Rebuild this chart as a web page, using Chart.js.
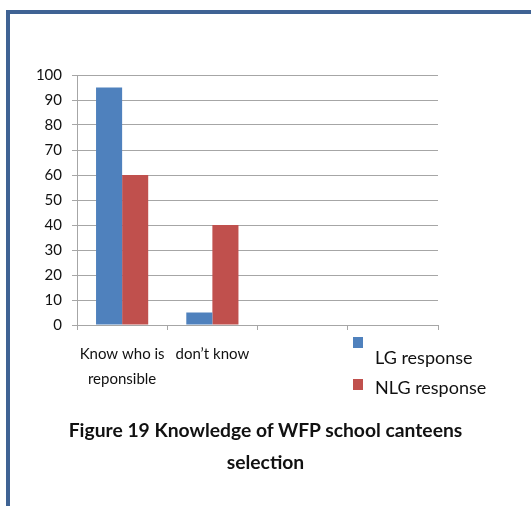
<!DOCTYPE html>
<html lang="en">
<head>
  <meta charset="UTF-8" />
  <title>Figure 19 Knowledge of WFP school canteens selection</title>
  <script src="https://cdn.jsdelivr.net/npm/chart.js"></script>
  <style>
    html, body { margin: 0; padding: 0; background: #fff; }
    #wrap { position: relative; width: 531px; height: 506px; overflow: hidden; }
    #frame {
      position: absolute; left: 6px; top: 10px; right: -10px; bottom: -10px;
      border-top: 4px solid #3f6394; border-left: 4px solid #3f6394;
    }
    #chart { position: absolute; left: 0; top: 0; }
    #caption {
      position: absolute; left: 0; top: 414px; width: 531px;
      text-align: center; font: bold 19.3px Lato, sans-serif; line-height: 32px; color: #111;
    }
  </style>
</head>
<body>
  <div id="wrap">
    <div id="frame"></div>
    <canvas id="chart" width="531" height="506"></canvas>
    <div id="caption">Figure 19 Knowledge of WFP school canteens<br>selection</div>
  </div>

  <script>
    // chart data
    const categories = [['Know who is', 'reponsible'], 'don\u2019t know', '', ''];
    const lgResponse = [95, 5, null, null];
    const nlgResponse = [60, 40, null, null];
    const yTicks = { min: 0, max: 100, step: 10 };

    const gridGrey = '#a6a6a6';

    // legend drawn below the axis, right side, like the original figure
    const sideLegend = {
      id: 'sideLegend',
      afterDraw(chart) {
        const ctx = chart.ctx;
        const items = [
          { box: [353, 337], text: [375, 358] },
          { box: [353, 379], text: [375, 388] }
        ];
        ctx.save();
        ctx.font = '18px Lato, sans-serif';
        ctx.textBaseline = 'middle';
        chart.data.datasets.forEach((ds, i) => {
          const it = items[i];
          ctx.fillStyle = ds.backgroundColor;
          ctx.fillRect(it.box[0], it.box[1], 10, 11);
          ctx.fillStyle = '#111';
          ctx.fillText(ds.label, it.text[0], it.text[1]);
        });
        ctx.restore();
      }
    };

    const ctx = document.getElementById('chart').getContext('2d');
    new Chart(ctx, {
      type: 'bar',
      data: {
        labels: categories,
        datasets: [
          { label: 'LG response', data: lgResponse, backgroundColor: '#4f81bd' },
          { label: 'NLG response', data: nlgResponse, backgroundColor: '#c0504d' }
        ]
      },
      options: {
        responsive: false,
        animation: false,
        categoryPercentage: 0.578,
        barPercentage: 1,
        layout: { padding: { left: 0, top: 75, right: 93, bottom: 91 } },
        plugins: {
          legend: { display: false },
          tooltip: { enabled: false }
        },
        scales: {
          x: {
            grid: { offset: true, drawOnChartArea: false, drawTicks: true, tickLength: 5, color: gridGrey },
            border: { color: gridGrey },
            ticks: { color: '#111', font: { family: 'Lato, sans-serif', size: 15, lineHeight: 1.7 }, padding: 11, maxRotation: 0, autoSkip: false },
            afterFit: s => { s.height = 90; }
          },
          y: {
            min: yTicks.min, max: yTicks.max,
            grid: { color: gridGrey, tickLength: 5 },
            border: { color: gridGrey },
            ticks: { stepSize: yTicks.step, color: '#111', font: { family: 'Lato, sans-serif', size: 15 }, padding: 10 },
            afterFit: s => { s.width = 77; }
          }
        }
      },
      plugins: [sideLegend]
    });
  </script>
</body>
</html>
